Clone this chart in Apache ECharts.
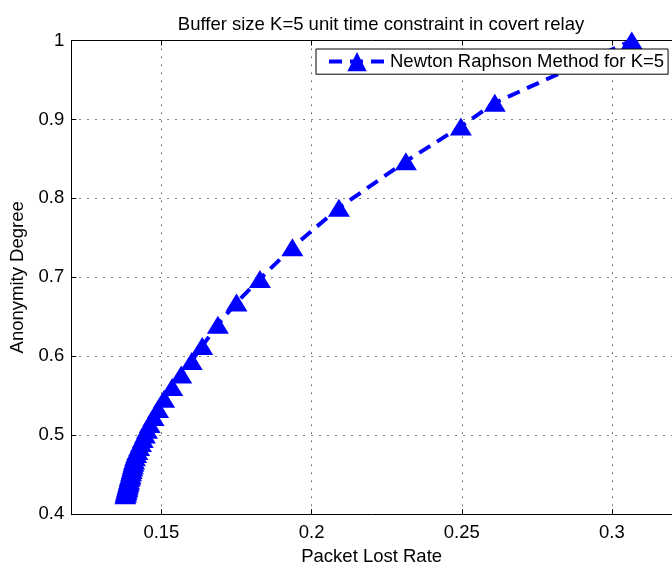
<!DOCTYPE html>
<html>
<head>
<meta charset="utf-8">
<script src="https://cdn.jsdelivr.net/npm/echarts@6/dist/echarts.min.js"></script>
<style>
  html, body { margin: 0; padding: 0; background: #fff; }
  #chart { width: 672px; height: 571px; }
</style>
</head>
<body>
<div id="chart"></div>
<script>
// Packet lost rate (x) and anonymity degree (y) for buffer size K=5
const packetLostRate = [
  0.1380, 0.1381, 0.1382, 0.1383, 0.1384, 0.1385, 0.1386, 0.1387, 0.1388, 0.1390,
  0.1391, 0.1392, 0.1394, 0.1396, 0.1397, 0.1399, 0.1401, 0.1403, 0.1405, 0.1407,
  0.1409, 0.1412, 0.1416, 0.1420, 0.1426, 0.1432, 0.1438, 0.1445, 0.1452, 0.1461,
  0.1474, 0.1489, 0.1509, 0.1536, 0.1566, 0.1601, 0.1636, 0.1688, 0.1750, 0.1828,
  0.1936, 0.2091, 0.2314, 0.2497, 0.2610, 0.3066
];
const anonymityDegree = [
  0.424, 0.426, 0.427, 0.429, 0.430, 0.432, 0.433, 0.435, 0.437, 0.439,
  0.441, 0.443, 0.446, 0.448, 0.450, 0.453, 0.456, 0.459, 0.462, 0.465,
  0.468, 0.472, 0.476, 0.480, 0.485, 0.490, 0.495, 0.501, 0.507, 0.514,
  0.523, 0.533, 0.546, 0.561, 0.577, 0.594, 0.613, 0.640, 0.668, 0.698,
  0.738, 0.788, 0.847, 0.891, 0.921, 1.000
];
const xTickValues = [0.15, 0.2, 0.25, 0.3];
const seriesName = 'Newton Raphson Method for K=5';

const FONT = '"Liberation Sans", Arial, Helvetica, sans-serif';
const FS = 18.5;
const BLUE = '#0000ff';
const DASH = [13, 8];

const chart = echarts.init(document.getElementById('chart'), null, { renderer: 'canvas' });

const gridLine = { show: true, lineStyle: { color: '#555', width: 1, type: [1.5, 6.5] } };

chart.setOption({
  animation: false,
  backgroundColor: '#fff',
  title: {
    text: 'Buffer size K=5 unit time constraint in covert relay',
    left: 376, top: 10, textAlign: 'center',
    textStyle: { fontFamily: FONT, fontSize: FS, fontWeight: 'normal', color: '#000' }
  },
  legend: {
    data: [seriesName],
    left: 316, top: 49,
    padding: [3, 4, 3, 11],
    itemWidth: 56, itemHeight: 24,
    backgroundColor: '#fff', borderColor: '#000', borderWidth: 1,
    lineStyle: { color: BLUE, width: 4, type: DASH },
    itemStyle: { color: BLUE },
    textStyle: { fontFamily: FONT, fontSize: FS, color: '#000' }
  },
  grid: { left: 71.3, right: -7.3, top: 40.5, bottom: 51 },
  xAxis: [
    {
      type: 'value', min: 0.12, max: 0.32,
      name: 'Packet Lost Rate', nameLocation: 'middle', nameGap: 27,
      nameTextStyle: { fontFamily: FONT, fontSize: FS, color: '#000' },
      axisLine: { show: true, onZero: false, lineStyle: { color: '#000', width: 1 } },
      axisTick: { show: true, inside: true, length: 5, customValues: xTickValues, lineStyle: { color: '#000' } },
      axisLabel: { customValues: xTickValues, margin: 9, fontFamily: FONT, fontSize: FS, color: '#000' },
      splitLine: gridLine
    },
    {
      type: 'value', min: 0.12, max: 0.32, position: 'top',
      axisLine: { show: true, onZero: false, lineStyle: { color: '#000', width: 1 } },
      axisTick: { show: true, inside: true, length: 5, customValues: xTickValues, lineStyle: { color: '#000' } },
      axisLabel: { show: false },
      splitLine: { show: false }
    }
  ],
  yAxis: {
    type: 'value', min: 0.4, max: 1, interval: 0.1,
    name: 'Anonymity Degree', nameLocation: 'middle', nameGap: 41,
    nameTextStyle: { fontFamily: FONT, fontSize: FS, color: '#000' },
    axisLine: { show: true, onZero: false, lineStyle: { color: '#000', width: 1 } },
    axisTick: { show: true, inside: true, length: 5, lineStyle: { color: '#000' } },
    axisLabel: {
      margin: 7, fontFamily: FONT, fontSize: FS, color: '#000',
      formatter: v => (Math.round(v * 10) / 10).toString()
    },
    splitLine: gridLine
  },
  series: [{
    name: seriesName,
    type: 'line',
    xAxisIndex: 0,
    data: packetLostRate.map((x, i) => [x, anonymityDegree[i]]),
    symbol: 'triangle',
    symbolSize: [22, 18],
    showAllSymbol: true,
    clip: false,
    itemStyle: { color: BLUE, borderWidth: 0 },
    lineStyle: { color: BLUE, width: 4, type: DASH }
  }]
});
</script>
</body>
</html>
